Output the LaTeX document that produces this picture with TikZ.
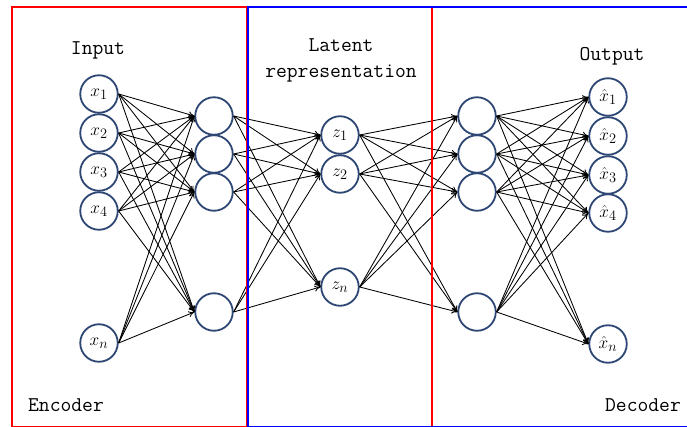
\documentclass[tikz,border=0pt]{standalone}
\usetikzlibrary{arrows.meta}
\definecolor{nodeblue}{RGB}{45,70,115}
\begin{document}
\begin{tikzpicture}[x=1pt,y=-1pt,
  neuron/.style={circle,draw=nodeblue,line width=1.8pt,fill=white,minimum size=37.5pt,inner sep=0pt,font=\fontsize{19}{21}\selectfont},
  conn/.style={-{To[length=6pt,width=6pt]},line width=0.85pt,black},
  lbl/.style={font=\fontsize{21}{26}\selectfont\ttfamily,inner sep=0pt,align=center}]
\useasboundingbox (0,0) rectangle (687,427);
\begin{scope}
\clip (0,0) rectangle (687,427);
% nodes
\node[neuron] (x1) at (99,94) {$x_1$};
\node[neuron] (x2) at (99,133) {$x_2$};
\node[neuron] (x3) at (99,172) {$x_3$};
\node[neuron] (x4) at (99,211) {$x_4$};
\node[neuron] (xn) at (99,343) {$x_n$};
\node[neuron] (h1) at (214,116) {};
\node[neuron] (h2) at (214,154) {};
\node[neuron] (h3) at (214,192) {};
\node[neuron] (h4) at (214,312) {};
\node[neuron] (z1) at (340,135) {$z_1$};
\node[neuron] (z2) at (340,174) {$z_2$};
\node[neuron] (zn) at (340,287) {$z_n$};
\node[neuron] (d1) at (477,116) {};
\node[neuron] (d2) at (477,154) {};
\node[neuron] (d3) at (477,192) {};
\node[neuron] (d4) at (477,312) {};
\node[neuron] (o1) at (608,97) {$\hat{x}_1$};
\node[neuron] (o2) at (608,136) {$\hat{x}_2$};
\node[neuron] (o3) at (608,175) {$\hat{x}_3$};
\node[neuron] (o4) at (608,213) {$\hat{x}_4$};
\node[neuron] (on) at (608,344) {$\hat{x}_n$};
% connectors
\foreach \a in {x1,x2,x3,x4,xn}
  \foreach \b in {h1,h2,h3,h4}
    \draw[conn] (\a.east) -- (\b.west);
\foreach \a in {h1,h2,h3,h4}
  \foreach \b in {z1,z2,zn}
    \draw[conn] (\a.east) -- (\b.west);
\foreach \a in {z1,z2,zn}
  \foreach \b in {d1,d2,d3,d4}
    \draw[conn] (\a.east) -- (\b.west);
\foreach \a in {d1,d2,d3,d4}
  \foreach \b in {o1,o2,o3,o4,on}
    \draw[conn] (\a.east) -- (\b.west);
% frames
\draw[red,line width=2pt] (12,7.5) rectangle (247,426.5);
\draw[red,line width=2pt] (431.5,7.5) rectangle (700,426.5);
\draw[blue,line width=2pt] (247.5,7.5) rectangle (700,426.5);
\end{scope}
% labels
\node[lbl] (in) at (98,50) {Input};
\node[lbl] (lat) at (341,60) {Latent\\representation};
\node[lbl] (out) at (612,56) {Output};
\node[lbl] (enc) at (66,405) {Encoder};
\node[lbl] (dec) at (643,405) {Decoder};
\end{tikzpicture}
\end{document}
